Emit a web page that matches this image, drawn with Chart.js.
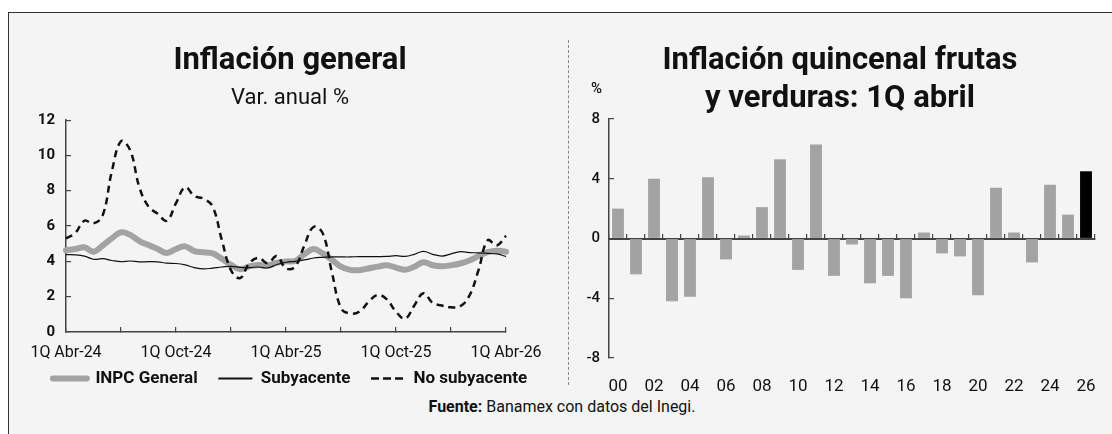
<!DOCTYPE html>
<html>
<head>
<meta charset="utf-8">
<script src="https://cdn.jsdelivr.net/npm/chart.js@4.4.1/dist/chart.umd.min.js"></script>
<style>
  html, body { margin: 0; padding: 0; background: #fff; width: 1112px; height: 434px; overflow: hidden; font-family: Roboto, "Noto Sans", sans-serif; color: #111; }
  #panel { position: absolute; left: 8px; top: 12px; width: 1104px; height: 422px; background: #f4f4f4; border-top: 1px solid #333; border-left: 1px solid #333; box-sizing: border-box; }
  canvas { position: absolute; }
  #left { left: 0; top: 14px; }
  #right { left: 570px; top: 14px; }
  .divider { position: absolute; left: 568px; top: 40px; height: 345px; border-left: 1px dashed #888; }
  .pct { position: absolute; left: 591px; top: 79px; font-size: 15px; font-weight: 500; }
  .source { position: absolute; left: 0; width: 1124px; top: 397px; text-align: center; font-size: 16px; }
</style>
</head>
<body>
<div id="panel"></div>
<div class="divider"></div>
<canvas id="left" width="580" height="383"></canvas>
<canvas id="right" width="542" height="378"></canvas>
<div class="pct">%</div>
<div class="source"><b>Fuente:</b> Banamex con datos del Inegi.</div>

<script>
// left chart: annual inflation, fortnightly from 1Q Abr-24 to 1Q Abr-26
const quincenas = [
  '1Q Abr-24', '2Q Abr-24', '1Q May-24', '2Q May-24', '1Q Jun-24', '2Q Jun-24',
  '1Q Jul-24', '2Q Jul-24', '1Q Ago-24', '2Q Ago-24', '1Q Sep-24', '2Q Sep-24',
  '1Q Oct-24', '2Q Oct-24', '1Q Nov-24', '2Q Nov-24', '1Q Dic-24', '2Q Dic-24',
  '1Q Ene-25', '2Q Ene-25', '1Q Feb-25', '2Q Feb-25', '1Q Mar-25', '2Q Mar-25',
  '1Q Abr-25', '2Q Abr-25', '1Q May-25', '2Q May-25', '1Q Jun-25', '2Q Jun-25',
  '1Q Jul-25', '2Q Jul-25', '1Q Ago-25', '2Q Ago-25', '1Q Sep-25', '2Q Sep-25',
  '1Q Oct-25', '2Q Oct-25', '1Q Nov-25', '2Q Nov-25', '1Q Dic-25', '2Q Dic-25',
  '1Q Ene-26', '2Q Ene-26', '1Q Feb-26', '2Q Feb-26', '1Q Mar-26', '2Q Mar-26',
  '1Q Abr-26'
]

const general = [
  4.63, 4.70, 4.80, 4.55, 4.90, 5.30, 5.65, 5.50, 5.15, 4.92, 4.70, 4.48,
  4.70, 4.85, 4.58, 4.52, 4.45, 4.15, 3.80, 3.55, 3.72, 3.80, 3.76, 3.92,
  4.00, 4.02, 4.40, 4.70, 4.45, 4.10, 3.70, 3.52, 3.50, 3.60, 3.70, 3.78,
  3.65, 3.52, 3.70, 3.95, 3.78, 3.72, 3.78, 3.88, 4.05, 4.30, 4.52, 4.60,
  4.55
]

const subyacente = [
  4.38, 4.37, 4.30, 4.12, 4.15, 4.05, 3.98, 4.02, 3.97, 3.98, 3.97, 3.90,
  3.88, 3.80, 3.65, 3.57, 3.62, 3.68, 3.72, 3.66, 3.65, 3.68, 3.63, 3.82,
  3.95, 4.00, 4.08, 4.19, 4.23, 4.25, 4.25, 4.25, 4.27, 4.27, 4.27, 4.28,
  4.32, 4.28, 4.40, 4.57, 4.40, 4.30, 4.42, 4.55, 4.50, 4.48, 4.45, 4.42,
  4.27
]

const noSubyacente = [
  5.30, 5.60, 6.30, 6.15, 6.60, 9.10, 10.80, 10.30, 8.20, 7.10, 6.70, 6.30,
  7.30, 8.20, 7.70, 7.55, 7.10, 5.20, 3.50, 3.05, 3.90, 4.20, 3.90, 4.30,
  3.60, 3.70, 4.90, 5.95, 5.60, 3.40, 1.35, 1.05, 1.15, 1.70, 2.10, 1.85,
  1.15, 0.75, 1.50, 2.20, 1.65, 1.50, 1.40, 1.45, 2.05, 3.50, 5.20, 4.90,
  5.45
]

// right chart: fortnightly change of fruits and vegetables, 1Q April of each year
const years = ['00', '01', '02', '03', '04', '05', '06', '07', '08', '09', '10', '11', '12', '13',
  '14', '15', '16', '17', '18', '19', '20', '21', '22', '23', '24', '25', '26']
const frutasVerduras = [2.0, -2.4, 4.0, -4.2, -3.9, 4.1, -1.4, 0.2, 2.1, 5.3, -2.1, 6.3, -2.5, -0.4,
  -3.0, -2.5, -4.0, 0.4, -1.0, -1.2, -3.8, 3.4, 0.4, -1.6, 3.6, 1.6, 4.5]

const GREY = '#a3a3a3'
const INK = '#111'
const AXIS = '#444'

Chart.defaults.font.family = 'Roboto, "Noto Sans", sans-serif'
Chart.defaults.color = INK

const baseLabels = Chart.defaults.plugins.legend.labels.generateLabels

new Chart(document.getElementById('left'), {
  type: 'line',
  data: {
    labels: quincenas,
    datasets: [
      { label: 'INPC General', data: general, borderColor: GREY, backgroundColor: GREY, borderWidth: 6, borderCapStyle: 'round', borderJoinStyle: 'round', order: 3, xAxisID: 'x', yAxisID: 'y' },
      { label: 'Subyacente', data: subyacente, borderColor: INK, backgroundColor: INK, borderWidth: 1.2, order: 2, xAxisID: 'x', yAxisID: 'y' },
      { label: 'No subyacente', data: noSubyacente, borderColor: INK, backgroundColor: INK, borderWidth: 2.5, borderDash: [7, 5], order: 1, xAxisID: 'x', yAxisID: 'y' }
    ]
  },
  options: {
    responsive: false,
    animation: false,
    events: [],
    elements: { point: { radius: 0 }, line: { tension: 0.4 } },
    scales: {
      x: {
        grid: { drawOnChartArea: false, tickLength: -5, color: AXIS, lineWidth: 1.2 },
        border: { color: AXIS, width: 1.5 },
        ticks: {
          autoSkip: false,
          maxRotation: 0,
          padding: 16,
          font: { size: 16 },
          // label every 6 months, tick mark every quarter
          callback: (v, i) => i % 12 === 0 ? quincenas[i] : (i % 6 === 0 ? '' : null)
        },
        afterFit: s => { s.height = 30 }
      },
      y: {
        min: 0,
        max: 12,
        grid: { drawOnChartArea: false, tickLength: -5, color: AXIS, lineWidth: 1.2 },
        border: { color: AXIS, width: 1.5 },
        ticks: { stepSize: 2, padding: 16, font: { size: 15, weight: 'bold' } },
        afterFit: s => { s.width = 66 }
      },
      // empty right box so title and legend centre like the original
      yR: {
        position: 'right',
        grid: { display: false },
        border: { display: false },
        ticks: { display: false },
        afterFit: s => { s.width = 74 }
      }
    },
    plugins: {
      title: { display: true, text: 'Inflación general', font: { size: 31, weight: 'bold' }, padding: { top: 29, bottom: 0 } },
      subtitle: { display: true, text: 'Var. anual %', color: INK, font: { size: 22, weight: 'normal' }, padding: { top: 5, bottom: 8.5 } },
      legend: {
        position: 'bottom',
        labels: {
          // flat box of zero height -> drawn as a line sample, keeps the dash
          boxWidth: 34,
          boxHeight: 0,
          padding: 8,
          font: { size: 17, weight: 'bold' },
          generateLabels: chart => baseLabels(chart).map(item => {
            if (item.datasetIndex < 2) item.text += '   '
            if (item.datasetIndex === 1) item.lineWidth = 2
            return item
          }),
          sort: (a, b) => a.datasetIndex - b.datasetIndex
        }
      },
      tooltip: { enabled: false }
    }
  }
})

new Chart(document.getElementById('right'), {
  type: 'bar',
  data: {
    labels: years,
    datasets: [{
      data: frutasVerduras,
      backgroundColor: years.map((y, i) => i === years.length - 1 ? '#000' : GREY),
      barPercentage: 0.66,
      categoryPercentage: 1,
      xAxisID: 'x',
      yAxisID: 'y'
    }]
  },
  options: {
    responsive: false,
    animation: false,
    events: [],
    layout: { padding: { right: 2 } },
    scales: {
      x: {
        grid: { display: false },
        border: { display: false },
        ticks: { autoSkip: false, maxRotation: 0, padding: 11, font: { size: 17 }, callback: (v, i) => i % 2 === 0 ? years[i] : '' },
        afterFit: s => { s.height = 34 }
      },
      y: {
        min: -8,
        max: 8,
        grid: { drawOnChartArea: false, tickLength: -5, color: AXIS, lineWidth: 1.2 },
        border: { color: AXIS, width: 1.5 },
        ticks: { stepSize: 4, padding: 14, font: { size: 15, weight: '500' } },
        afterFit: s => { s.width = 39 }
      },
      // zero line with small marks between the years
      zero: {
        type: 'category',
        axis: 'x',
        position: { y: 0 },
        offset: true,
        grid: { offset: true, drawOnChartArea: false, tickLength: -6, color: AXIS, lineWidth: 1.2 },
        border: { color: AXIS, width: 2 },
        ticks: { display: false }
      },
      yR: {
        position: 'right',
        grid: { display: false },
        border: { display: false },
        ticks: { display: false },
        afterFit: s => { s.width = 15 }
      }
    },
    plugins: {
      title: {
        display: true,
        text: ['Inflación quincenal frutas', 'y verduras: 1Q abril'],
        font: { size: 31, weight: 'bold', lineHeight: 1.2 },
        padding: { top: 29, bottom: 1.6 }
      },
      legend: { display: false },
      tooltip: { enabled: false }
    }
  }
})
</script>
</body>
</html>
